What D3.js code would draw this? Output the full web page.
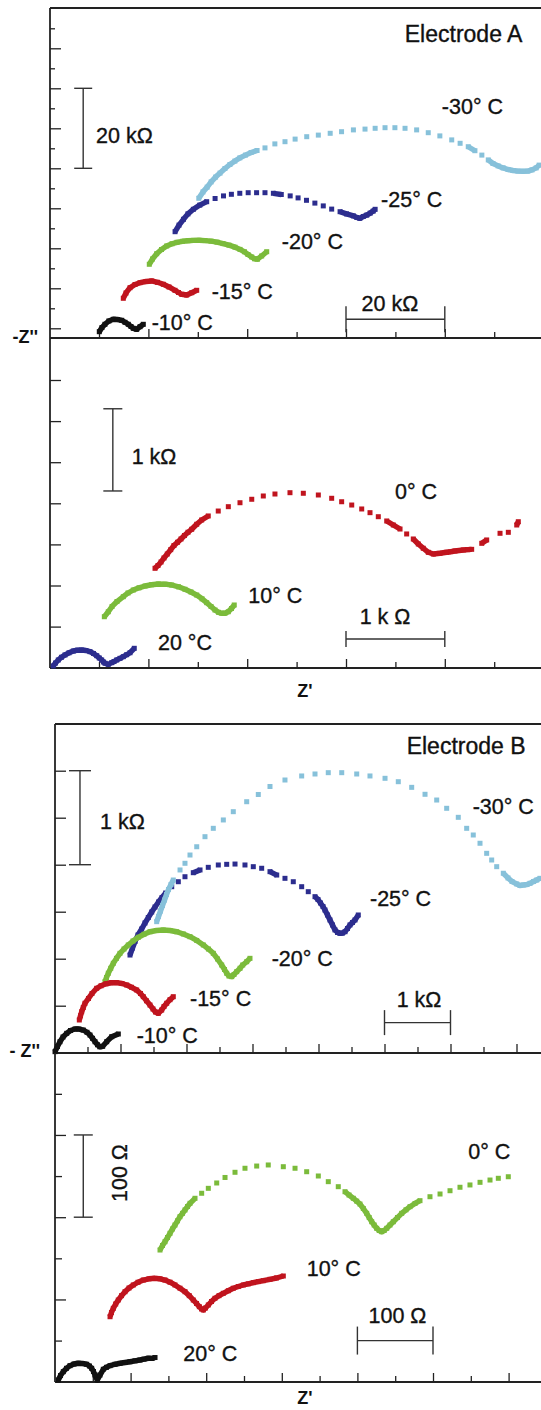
<!DOCTYPE html>
<html>
<head>
<meta charset="utf-8">
<script src="https://cdn.jsdelivr.net/npm/d3@7"></script>
<style>
  body { margin: 0; background: #fff; }
  text { font-family: "Liberation Sans", Arial, sans-serif; fill: #111; }
</style>
</head>
<body>
<svg id="chart" width="541" height="1410"></svg>
<script>
// Nyquist plots: [Z', -Z''] pairs, units as on each scale bar

// Electrode A, sub-zero temperatures (kOhm)
const aLowNames = ["-10° C", "-15° C", "-20° C", "-25° C", "-30° C"];
const aLowM10 = [[10.06,-0.85],[10.6,0.2],[11.2,1.0],[12.0,1.83],[12.9,2.25],[13.74,2.2],[14.6,2.0],[15.26,1.5],[15.93,1.0],[16.48,0.45],[16.94,0],[17.63,-0.25],[18.3,0.4],[18.97,1.0]];
const aLowM15 = [[14.92,7.5],[15.47,8.83],[16.28,10.15],[17.29,10.95],[18.3,11.4],[19.51,11.7],[20.67,11.83],[21.84,11.5],[23.02,11.0],[24.17,10.33],[25.38,9.5],[26.09,8.95],[26.74,8.5],[27.75,8.33],[28.77,8.9],[29.78,9.5]];
const aLowM20 = [[20.18,16.0],[20.83,17.33],[21.68,18.65],[22.65,19.7],[23.7,20.58],[24.78,21.13],[25.79,21.5],[26.9,21.75],[28.02,21.9],[29.13,21.98],[30.24,22.0],[31.46,21.93],[32.67,21.78],[33.89,21.53],[35.1,21.18],[36.32,20.78],[37.53,20.28],[38.54,19.73],[39.45,19.13],[40.16,18.45],[40.91,17.83],[41.48,17.38],[42.09,17.28],[42.93,18.08],[43.95,19.15]];
const aLowM25 = [[25.4,24.15],[26.2,25.8],[27.1,27.25],[28.0,28.6],[29.1,29.75],[30.4,30.8],[31.8,31.65],[33.5,32.45],[35.2,33.1],[36.8,33.5],[38.5,33.75],[40.2,33.9],[41.9,33.9],[43.6,33.9],[45.3,33.75],[46.9,33.45],[48.7,33.1],[50.3,32.6],[52.0,32.0],[53.7,31.3],[55.4,30.6],[57.1,29.8],[58.8,29.15],[60.1,28.6],[61.5,28.1],[62.2,27.7],[62.8,27.5],[63.5,27.95],[64.2,28.3],[64.9,28.8],[65.5,29.3],[65.9,29.75]];
const aLowM30 = [[30.2,32.5],[31.05,34.1],[31.9,35.3],[32.7,36.6],[33.6,37.8],[34.5,38.8],[35.5,39.95],[36.5,40.95],[37.5,41.8],[38.5,42.6],[39.65,43.3],[40.8,43.95],[42.0,44.45],[43.6,45.1],[45.6,46.1],[47.65,46.65],[49.7,47.3],[52.05,47.9],[54.4,48.3],[56.8,48.75],[59.1,49.15],[61.5,49.6],[63.85,49.8],[65.9,50.0],[67.9,50.15],[69.9,50.15],[71.95,50.0],[74.3,49.6],[76.65,48.9],[79.0,48.1],[81.4,47.1],[83.1,46.25],[84.75,45.4],[86.1,44.4],[87.5,43.3],[88.8,42.1],[89.75,41.2],[90.8,40.6],[91.8,40.1],[92.8,39.7],[93.8,39.45],[94.8,39.3],[95.8,39.25],[96.8,39.3],[97.65,39.6],[98.5,40.1],[99.1,40.8]];

// Electrode A, 0 to 20 °C (kOhm)
const aHighNames = ["20 °C", "10° C", "0° C"];
const aHigh20 = [[0.037,0.021],[0.06,0.057],[0.088,0.094],[0.12,0.127],[0.156,0.155],[0.196,0.181],[0.24,0.203],[0.282,0.213],[0.325,0.215],[0.368,0.209],[0.409,0.195],[0.444,0.173],[0.477,0.146],[0.503,0.118],[0.527,0.094],[0.546,0.069],[0.561,0.054],[0.594,0.041],[0.629,0.061],[0.652,0.075],[0.679,0.094],[0.713,0.114],[0.746,0.134],[0.78,0.158],[0.814,0.182],[0.857,0.236]];
const aHigh10 = [[0.554,0.62],[0.594,0.681],[0.632,0.745],[0.682,0.805],[0.746,0.864],[0.794,0.909],[0.847,0.945],[0.905,0.972],[0.966,0.994],[1.031,1.009],[1.1,1.018],[1.168,1.016],[1.236,1.006],[1.305,0.984],[1.37,0.954],[1.431,0.921],[1.489,0.884],[1.543,0.838],[1.59,0.791],[1.634,0.745],[1.674,0.702],[1.709,0.674],[1.742,0.662],[1.775,0.663],[1.809,0.681],[1.841,0.72],[1.869,0.763]];
const aHigh0 = [[1.067,1.209],[1.097,1.243],[1.128,1.286],[1.158,1.335],[1.191,1.383],[1.226,1.436],[1.259,1.487],[1.295,1.526],[1.33,1.566],[1.365,1.608],[1.401,1.648],[1.438,1.684],[1.489,1.745],[1.539,1.797],[1.606,1.846],[1.707,1.906],[1.809,1.959],[1.927,2.007],[2.046,2.049],[2.163,2.089],[2.281,2.113],[2.433,2.129],[2.568,2.122],[2.72,2.101],[2.855,2.061],[2.956,2.019],[3.058,1.979],[3.159,1.931],[3.243,1.886],[3.327,1.837],[3.412,1.785],[3.479,1.736],[3.547,1.687],[3.614,1.627],[3.681,1.566],[3.732,1.505],[3.782,1.453],[3.833,1.404],[3.884,1.383],[3.951,1.392],[4.019,1.404],[4.061,1.411],[4.103,1.42],[4.146,1.426],[4.187,1.432],[4.23,1.436],[4.272,1.44],[4.374,1.513],[4.424,1.554],[4.559,1.635],[4.643,1.647],[4.728,1.736],[4.744,1.776]];

// Electrode B, sub-zero temperatures (kOhm)
const bLowNames = ["-10° C", "-15° C", "-20° C", "-25° C", "-30° C"];
const bLowM10 = [[0.008,0.011],[0.045,0.066],[0.083,0.117],[0.129,0.167],[0.185,0.206],[0.242,0.236],[0.311,0.252],[0.371,0.252],[0.436,0.241],[0.492,0.217],[0.538,0.188],[0.576,0.153],[0.614,0.117],[0.652,0.084],[0.686,0.063],[0.73,0.068],[0.791,0.117],[0.867,0.17],[0.967,0.199]];
const bLowM15 = [[0.376,0.348],[0.394,0.393],[0.412,0.436],[0.436,0.481],[0.462,0.526],[0.515,0.577],[0.568,0.63],[0.639,0.685],[0.705,0.712],[0.78,0.733],[0.856,0.744],[0.942,0.745],[1.023,0.736],[1.094,0.72],[1.167,0.696],[1.245,0.667],[1.303,0.63],[1.345,0.596],[1.394,0.552],[1.447,0.507],[1.492,0.465],[1.53,0.433],[1.573,0.419],[1.624,0.454],[1.659,0.491],[1.7,0.526],[1.75,0.564],[1.8,0.596]];
const bLowM20 = [[0.765,0.755],[0.788,0.8],[0.815,0.845],[0.852,0.898],[0.891,0.951],[0.939,1.004],[0.992,1.057],[1.053,1.103],[1.118,1.146],[1.189,1.188],[1.27,1.228],[1.356,1.26],[1.447,1.287],[1.545,1.3],[1.648,1.305],[1.75,1.3],[1.852,1.287],[1.952,1.263],[2.053,1.234],[2.155,1.194],[2.255,1.146],[2.333,1.103],[2.406,1.057],[2.47,0.997],[2.533,0.933],[2.576,0.885],[2.609,0.845],[2.644,0.816],[2.685,0.809],[2.72,0.832],[2.761,0.862],[2.811,0.898],[2.852,0.933],[2.912,0.968],[2.962,1.004]];
const bLowM25 = [[1.144,1.039],[1.182,1.114],[1.22,1.183],[1.265,1.252],[1.321,1.316],[1.371,1.38],[1.421,1.438],[1.473,1.497],[1.523,1.55],[1.576,1.603],[1.629,1.651],[1.685,1.699],[1.776,1.766],[1.876,1.819],[1.977,1.872],[2.103,1.915],[2.205,1.944],[2.33,1.972],[2.482,1.997],[2.609,2.004],[2.735,2.007],[2.886,1.997],[3.012,1.979],[3.139,1.962],[3.265,1.926],[3.367,1.89],[3.492,1.855],[3.618,1.819],[3.745,1.766],[3.845,1.713],[3.947,1.66],[3.992,1.63],[4.03,1.593],[4.068,1.555],[4.098,1.518],[4.136,1.465],[4.174,1.412],[4.212,1.359],[4.25,1.306],[4.288,1.279],[4.326,1.27],[4.364,1.273],[4.402,1.287],[4.439,1.321],[4.477,1.359],[4.515,1.385],[4.553,1.412],[4.603,1.465]];
const bLowM30 = [[1.548,1.394],[1.576,1.449],[1.606,1.507],[1.636,1.566],[1.667,1.624],[1.697,1.683],[1.727,1.736],[1.765,1.789],[1.8,1.837],[1.902,1.944],[1.977,2.015],[2.053,2.103],[2.155,2.191],[2.28,2.298],[2.406,2.387],[2.558,2.476],[2.709,2.564],[2.912,2.67],[3.088,2.747],[3.265,2.832],[3.492,2.901],[3.745,2.944],[3.947,2.965],[4.148,2.979],[4.352,2.979],[4.579,2.965],[4.78,2.944],[5.008,2.919],[5.209,2.883],[5.412,2.823],[5.614,2.749],[5.791,2.688],[5.942,2.6],[6.118,2.504],[6.245,2.387],[6.345,2.316],[6.447,2.228],[6.548,2.121],[6.624,2.05],[6.7,1.979],[6.8,1.909],[6.871,1.859],[6.932,1.821],[7.003,1.795],[7.053,1.779],[7.103,1.784],[7.159,1.789],[7.205,1.802],[7.258,1.821],[7.306,1.837],[7.356,1.855]];

// Electrode B, 0 to 20 °C (Ohm)
const bHighNames = ["20° C", "10° C", "0° C"];
const bHigh20 = [[4.4,2.1],[7.3,7.5],[11.0,12.2],[15.2,16.3],[19.8,19.5],[25.1,21.5],[30.8,22.4],[36.4,22.1],[41.9,21.2],[45.6,19.1],[48.5,16.3],[50.9,12.4],[52.9,8.1],[56.0,2.1],[59.5,8.1],[63.9,15.1],[68.1,17.5],[72.8,19.5],[79.4,21.2],[86.0,22.4],[92.6,23.3],[99.2,24.3],[105.8,25.4],[112.4,26.4],[117.7,27.4],[123.4,28.5],[128.3,28.3],[132.3,29.4]];
const bHigh10 = [[72.8,79.0],[74.7,84.1],[77.1,89.2],[80.3,94.5],[83.7,99.3],[88.0,104.6],[92.6,109.4],[97.9,113.9],[103.6,117.6],[109.8,120.9],[116.8,123.6],[124.3,125.1],[132.3,125.7],[138.9,125.1],[145.5,123.6],[152.1,121.0],[158.7,117.6],[165.3,113.7],[172.0,109.4],[177.6,104.6],[182.9,99.3],[187.2,95.1],[190.9,91.2],[193.8,88.4],[196.2,87.2],[199.1,89.6],[202.8,93.3],[207.0,97.5],[211.6,101.4],[216.9,104.6],[222.6,107.5],[229.2,110.6],[235.8,113.6],[242.5,115.7],[249.1,117.6],[255.7,119.0],[262.3,120.4],[268.9,121.7],[275.5,122.8],[284.4,124.5],[293.0,126.1],[302.0,128.5]];
const bHigh0 = [[138.9,160.1],[142.2,165.6],[145.5,170.2],[148.8,175.3],[152.1,180.4],[155.4,185.7],[158.7,190.5],[162.0,195.6],[165.3,200.6],[168.7,204.7],[172.0,208.8],[175.3,213.0],[178.6,216.9],[185.2,223.0],[194.0,229.1],[202.8,235.1],[213.9,241.6],[224.9,248.3],[238.1,254.6],[251.3,259.5],[266.8,262.2],[282.1,263.5],[302.0,261.4],[317.5,259.5],[332.9,255.3],[348.3,250.1],[361.5,243.2],[374.7,237.1],[383.6,231.0],[388.9,227.0],[394.6,223.0],[399.1,219.5],[403.4,216.0],[407.8,210.6],[412.3,204.7],[415.6,199.6],[418.9,194.5],[422.2,190.5],[425.5,186.5],[428.8,183.8],[432.1,182.4],[435.4,183.8],[438.8,186.5],[443.1,190.5],[447.5,194.5],[453.0,199.6],[458.6,204.7],[464.3,209.0],[469.6,212.8],[476.2,216.7],[482.8,220.1],[496.0,224.9],[509.3,228.2],[522.5,232.2],[535.7,236.4],[548.9,239.2],[562.2,242.4],[575.4,245.2],[586.4,247.3],[599.6,249.2]];

const black = "#111111", red = "#c0141e", green = "#7bbb3b", navy = "#2c2d8e", sky = "#87c1da";

const svg = d3.select("#chart");

function isMajor(v, step) {
  return Math.abs(v / step - Math.round(v / step)) < 1e-6;
}

function drawSeries(g, x, y, pts, color) {
  // points that sit close together on screen merge into a solid band
  const p = pts.map(d => [x(d[0]), y(d[1])]);
  const runs = [];
  let run = [p[0]];
  for (let i = 1; i < p.length; i++) {
    if (Math.hypot(p[i][0] - p[i - 1][0], p[i][1] - p[i - 1][1]) < 8) run.push(p[i]);
    else { runs.push(run); run = [p[i]]; }
  }
  runs.push(run);
  g.append("g").selectAll("path")
    .data(runs.filter(r => r.length > 1))
    .join("path")
    .attr("d", d3.line())
    .attr("fill", "none")
    .attr("stroke", color)
    .attr("stroke-width", 5.4)
    .attr("stroke-linejoin", "round");
  g.append("g").selectAll("rect")
    .data(pts)
    .join("rect")
    .attr("x", d => x(d[0]) - 2.5)
    .attr("y", d => y(d[1]) - 2.5)
    .attr("width", 5)
    .attr("height", 5)
    .attr("fill", color);
}

function drawPanel(o) {
  const g = svg.append("g");
  const { x, y } = o;

  // frame
  if (o.top != null) {
    g.append("line").attr("x1", o.left).attr("x2", 541).attr("y1", o.top).attr("y2", o.top)
      .attr("stroke", "#222").attr("stroke-width", 2);
  }
  g.append("line").attr("x1", o.left).attr("x2", 541).attr("y1", o.bottom).attr("y2", o.bottom)
    .attr("stroke", "#222").attr("stroke-width", 1.8);
  g.append("line").attr("x1", o.left).attr("x2", o.left).attr("y1", o.yTop).attr("y2", o.bottom)
    .attr("stroke", "#222").attr("stroke-width", 1.8);

  // inward ticks, majors longer than minors
  const tickStyle = a => a.call(s => s.select(".domain").remove())
    .call(s => s.selectAll("line").attr("stroke", "#222").attr("stroke-width", 1.3));
  g.append("g").attr("transform", `translate(0,${o.bottom})`)
    .call(d3.axisBottom(x).tickValues(o.xTicks.filter(v => isMajor(v, o.xMajor)))
      .tickSizeInner(-9).tickSizeOuter(0).tickFormat(""))
    .call(tickStyle);
  g.append("g").attr("transform", `translate(0,${o.bottom})`)
    .call(d3.axisBottom(x).tickValues(o.xTicks.filter(v => !isMajor(v, o.xMajor)))
      .tickSizeInner(-6).tickSizeOuter(0).tickFormat(""))
    .call(tickStyle);
  g.append("g").attr("transform", `translate(${o.left},0)`)
    .call(d3.axisLeft(y).tickValues(o.yTicks.filter(v => isMajor(v, o.yMajor)))
      .tickSizeInner(-11).tickSizeOuter(0).tickFormat(""))
    .call(tickStyle);
  g.append("g").attr("transform", `translate(${o.left},0)`)
    .call(d3.axisLeft(y).tickValues(o.yTicks.filter(v => !isMajor(v, o.yMajor)))
      .tickSizeInner(-o.yMinorLen).tickSizeOuter(0).tickFormat(""))
    .call(tickStyle);

  // scale bars
  const sb = g.append("g").attr("stroke", "#333").attr("stroke-width", 1.4);
  const v = o.vbar, h = o.hbar;
  sb.append("line").attr("x1", x(v.at)).attr("x2", x(v.at)).attr("y1", y(v.from)).attr("y2", y(v.to));
  [v.from, v.to].forEach(t => sb.append("line")
    .attr("x1", x(v.at) - v.cap).attr("x2", x(v.at) + v.cap).attr("y1", y(t)).attr("y2", y(t)));
  sb.append("line").attr("x1", x(h.from)).attr("x2", x(h.to)).attr("y1", y(h.at)).attr("y2", y(h.at));
  [h.from, h.to].forEach(t => sb.append("line")
    .attr("x1", x(t)).attr("x2", x(t)).attr("y1", y(h.at) - h.cap).attr("y2", y(h.at) + h.cap));

  o.series.forEach(s => drawSeries(g, x, y, s.pts, s.color));

  o.labels.forEach(l => {
    const t = g.append("text").text(l.text)
      .attr("font-size", l.size || 21.5)
      .attr("stroke", "#111").attr("stroke-width", 0.35)
      .attr("text-anchor", l.anchor || "start");
    if (l.rotate) {
      t.attr("transform", `translate(${x(l.at[0])},${y(l.at[1])}) rotate(-90)`);
    } else {
      t.attr("x", x(l.at[0])).attr("y", y(l.at[1]));
    }
  });
}

// Electrode A, upper
drawPanel({
  x: d3.scaleLinear().domain([0, 100]).range([49.6, 543.6]),
  y: d3.scaleLinear().domain([0, 80]).range([328.3, 8.3]),
  left: 50, top: 8, yTop: 8, bottom: 338,
  xTicks: d3.range(10, 100, 10), xMajor: 20,
  yTicks: d3.range(0, 80, 5), yMajor: 10, yMinorLen: 5,
  vbar: { at: 6.8, from: 40, to: 60, cap: 9 },
  hbar: { at: 2.25, from: 60, to: 80, cap: 13 },
  series: [
    { pts: aLowM25, color: navy }, { pts: aLowM30, color: sky },
    { pts: aLowM20, color: green }, { pts: aLowM15, color: red }, { pts: aLowM10, color: black }
  ],
  labels: [
    { text: "Electrode A", at: [71.9, 71.5], size: 23 },
    { text: aLowNames[4], at: [79.4, 53.6] },
    { text: aLowNames[3], at: [67.1, 30.3] },
    { text: aLowNames[2], at: [47.0, 19.8] },
    { text: aLowNames[1], at: [32.8, 7.3] },
    { text: aLowNames[0], at: [20.67, -0.43] },
    { text: "20 kΩ", at: [9.4, 46.3] },
    { text: "20 kΩ", at: [68.9, 4.3], anchor: "middle" }
  ]
});

// Electrode A, lower
drawPanel({
  x: d3.scaleLinear().domain([0, 5]).range([49.6, 543.6]),
  y: d3.scaleLinear().domain([0, 4]).range([667.7, 338.9]),
  left: 50, top: null, yTop: 338, bottom: 668,
  xTicks: d3.range(0.5, 5, 0.5), xMajor: 1,
  yTicks: d3.range(0.5, 4, 0.5), yMajor: 0.5, yMinorLen: 6,
  vbar: { at: 0.64, from: 2.15, to: 3.15, cap: 9.5 },
  hbar: { at: 0.35, from: 3, to: 4, cap: 8 },
  series: [
    { pts: aHigh0, color: red }, { pts: aHigh10, color: green }, { pts: aHigh20, color: navy }
  ],
  labels: [
    { text: aHighNames[2], at: [3.496, 2.05] },
    { text: aHighNames[1], at: [2.011, 0.787] },
    { text: aHighNames[0], at: [1.097, 0.215] },
    { text: "1 kΩ", at: [0.831, 2.478] },
    { text: "1 k Ω", at: [3.395, 0.532], anchor: "middle" }
  ]
});

// Electrode B, upper
drawPanel({
  x: d3.scaleLinear().domain([0, 7.5]).range([54.5, 549.5]),
  y: d3.scaleLinear().domain([0, 3.5]).range([1052.7, 723.7]),
  left: 55, top: 724, yTop: 724, bottom: 1053,
  xTicks: d3.range(0.5, 7.5, 0.5), xMajor: 1,
  yTicks: d3.range(0.5, 3.5, 0.5), yMajor: 0.5, yMinorLen: 6,
  vbar: { at: 0.386, from: 2, to: 3, cap: 11 },
  hbar: { at: 0.32, from: 5, to: 6, cap: 12.5 },
  series: [
    { pts: bLowM25, color: navy }, { pts: bLowM30, color: sky },
    { pts: bLowM20, color: green }, { pts: bLowM15, color: red }, { pts: bLowM10, color: black }
  ],
  labels: [
    { text: "Electrode B", at: [5.336, 3.178], size: 23 },
    { text: bLowNames[4], at: [6.336, 2.539] },
    { text: bLowNames[3], at: [4.78, 1.561] },
    { text: bLowNames[2], at: [3.291, 0.922] },
    { text: bLowNames[1], at: [2.053, 0.497] },
    { text: bLowNames[0], at: [1.245, 0.103] },
    { text: "1 kΩ", at: [0.689, 2.38] },
    { text: "1 kΩ", at: [5.523, 0.486], anchor: "middle" }
  ]
});

// Electrode B, lower
drawPanel({
  x: d3.scaleLinear().domain([0, 650]).range([55, 546.4]),
  y: d3.scaleLinear().domain([0, 400]).range([1381.7, 1052.7]),
  left: 55, top: null, yTop: 1053, bottom: 1382,
  xTicks: d3.range(50, 650, 50), xMajor: 100,
  yTicks: d3.range(50, 400, 50), yMajor: 100, yMinorLen: 7,
  vbar: { at: 37.4, from: 200, to: 300, cap: 9.5 },
  hbar: { at: 50, from: 400, to: 500, cap: 14 },
  series: [
    { pts: bHigh0, color: green }, { pts: bHigh10, color: red }, { pts: bHigh20, color: black }
  ],
  labels: [
    { text: bHighNames[2], at: [546.7, 270.8] },
    { text: bHighNames[1], at: [332.9, 128.5] },
    { text: bHighNames[0], at: [169.7, 25.2] },
    { text: "100 Ω", at: [94.6, 253.7], anchor: "middle", rotate: true },
    { text: "100 Ω", at: [453, 71.4], anchor: "middle" }
  ]
});

// axis titles
const titles = [
  { text: "-Z''", x: 38, y: 343, anchor: "end" },
  { text: "Z'", x: 305, y: 697, anchor: "middle" },
  { text: "- Z''", x: 40, y: 1057, anchor: "end" },
  { text: "Z'", x: 305, y: 1404, anchor: "middle" }
];
svg.append("g").selectAll("text").data(titles).join("text")
  .attr("x", d => d.x).attr("y", d => d.y)
  .attr("text-anchor", d => d.anchor)
  .attr("font-size", 18).attr("font-weight", "bold")
  .text(d => d.text);
</script>
</body>
</html>
